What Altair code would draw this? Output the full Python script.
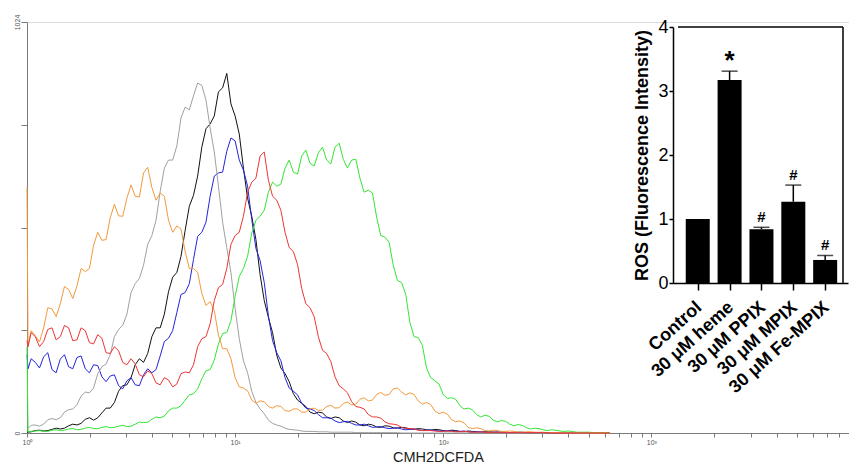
import json
import altair as alt
import pandas as pd

# ---------------- main histogram data (x in decades of fluorescence, y = counts) -------------
DECADES = [0, 0.005, 0.04, 0.08, 0.12, 0.16, 0.20, 0.24, 0.28, 0.32, 0.36, 0.40,
           0.44, 0.48, 0.52, 0.56, 0.60, 0.64, 0.68, 0.72, 0.76, 0.80,
           0.84, 0.88, 0.92, 0.96, 1.00, 1.04, 1.08, 1.12, 1.16, 1.20,
           1.24, 1.28, 1.32, 1.36, 1.40, 1.44, 1.48, 1.52, 1.56, 1.60,
           1.64, 1.68, 1.72, 1.76, 1.80, 1.84, 1.88, 1.92, 1.96, 2.00,
           2.04, 2.08, 2.12, 2.16, 2.20, 2.24, 2.28, 2.32, 2.36, 2.40,
           2.44, 2.48, 2.52, 2.56, 2.60, 2.64, 2.68, 2.72, 2.76, 2.80]
MID_DECADES = [0.02, 0.06, 0.10, 0.14, 0.18, 0.22, 0.26, 0.30, 0.34, 0.38,
               0.42, 0.46, 0.50, 0.54, 0.58, 0.62, 0.66, 0.70, 0.74, 0.78,
               0.82, 0.86, 0.90, 0.94, 0.98, 1.02, 1.06, 1.10, 1.14, 1.18,
               1.22, 1.26, 1.30, 1.34, 1.38, 1.42, 1.46, 1.50, 1.54, 1.58,
               1.62, 1.66, 1.70, 1.74, 1.78, 1.82, 1.86, 1.90, 1.94, 1.98,
               2.02, 2.06, 2.10, 2.14, 2.18, 2.22, 2.26, 2.30, 2.34, 2.38,
               2.42, 2.46, 2.50, 2.54, 2.58, 2.62, 2.66, 2.70, 2.74, 2.78]

GRAY = [12, 12, 20, 22, 36, 38, 58, 70, 102, 112, 165, 195, 258, 296, 372, 418, 492, 602,
        680, 715, 812, 840, 866, 760, 615, 462, 310, 180, 104, 60, 32, 20, 12, 8, 5, 4, 3, 3,
        2, 2, 2, 1, 1, 1, 1, 1, 0, 0, 0, 0, 0, 0, 0, 0, 0, 0, 0, 0, 0, 0, 0, 0, 0, 0, 0, 0, 0,
        0, 0, 0, 0, 0]
GRAY_MID = [19, 17, 33, 33, 52, 60, 92, 100, 148, 172, 240, 268, 350, 385, 470, 530, 660, 680,
            785, 805, 872, 830, 700, 525, 400, 235, 150, 76, 48, 24, 17, 9, 7, 4, 4, 3, 2, 2,
            2, 1, 1, 1, 1, 1, 1, 0, 0, 0, 0, 0, 0, 0, 0, 0, 0, 0, 0, 0, 0, 0, 0, 0, 0, 0, 0,
            0, 0, 0, 0, 0]
ORANGE = [612, 219, 242, 262, 309, 322, 358, 366, 402, 468, 480, 536, 541, 585, 590, 648, 612,
          598, 530, 516, 452, 410, 348, 327, 244, 210, 138, 112, 82, 80, 66, 68, 56, 60, 52, 60,
          56, 66, 62, 74, 70, 84, 80, 96, 94, 110, 102, 100, 80, 76, 55, 52, 33, 30, 14, 13, 6,
          7, 4, 5, 2, 3, 2, 2, 1, 1, 0, 0, 0, 0, 0, 0]
ORANGE_MID = [255, 227, 312, 290, 365, 335, 410, 410, 500, 482, 570, 540, 618, 588, 662, 580,
              590, 500, 508, 410, 400, 318, 305, 210, 185, 115, 105, 74, 78, 62, 66, 54, 60, 52,
              62, 57, 69, 63, 77, 72, 88, 82, 101, 96, 112, 95, 96, 72, 71, 48, 47, 28, 25, 11,
              11, 5, 6, 4, 4, 2, 3, 2, 1, 1, 1, 0, 0, 0, 0, 0]
GREEN = [214, 2, 5, 4, 7, 6, 10, 8, 12, 11, 14, 13, 17, 16, 22, 26, 34, 38, 55, 62, 82, 98,
         135, 158, 222, 250, 340, 410, 498, 540, 600, 615, 660, 650, 690, 672, 698, 680, 712,
         682, 680, 635, 605, 538, 488, 418, 375, 275, 238, 162, 130, 96, 88, 68, 62, 46, 44,
         32, 31, 22, 21, 13, 12, 8, 8, 5, 5, 2, 2, 1, 1, 0]
GREEN_MID = [4, 6, 4, 8, 7, 11, 9, 14, 11, 16, 14, 19, 17, 27, 27, 40, 42, 62, 68, 95,
             110, 155, 182, 248, 280, 390, 440, 530, 555, 625, 620, 680, 645, 705, 665, 712,
             670, 722, 660, 682, 600, 598, 492, 475, 380, 345, 240, 218, 138, 122, 86, 84, 60,
             58, 40, 42, 28, 29, 18, 19, 10, 11, 6, 7, 4, 4, 2, 2, 1, 1]
RED = [230, 215, 240, 228, 262, 240, 262, 232, 255, 222, 236, 198, 205, 170, 172, 140, 148,
       120, 132, 122, 152, 170, 235, 272, 362, 410, 492, 540, 625, 690, 630, 580, 500, 452,
       360, 312, 240, 198, 140, 110, 78, 64, 46, 40, 28, 22, 14, 11, 7, 6, 5, 4, 4, 3, 3, 2,
       2, 2, 1, 1, 1, 1, 1, 1, 0, 0, 0, 0, 0, 0, 0, 0]
RED_MID = [250, 215, 258, 232, 268, 230, 262, 225, 245, 200, 215, 176, 185, 145, 155, 125,
           138, 115, 148, 150, 215, 240, 330, 370, 470, 500, 600, 635, 700, 590, 555, 462, 420,
           322, 290, 206, 178, 118, 100, 66, 60, 40, 37, 23, 20, 11, 10, 6, 6, 4, 5, 3, 4, 2,
           3, 1, 2, 1, 1, 1, 1, 1, 1, 0, 0, 0, 0, 0, 0, 0]
BLACK = [2, 2, 6, 5, 9, 10, 18, 20, 34, 32, 50, 62, 104, 120, 170, 176, 240, 262, 352, 400,
         505, 592, 712, 770, 850, 896, 790, 660, 540, 395, 288, 194, 148, 98, 74, 52, 52, 40,
         40, 30, 30, 20, 22, 15, 18, 13, 14, 10, 11, 8, 9, 6, 7, 4, 5, 3, 3, 2, 2, 1, 2, 1, 1,
         1, 0, 0, 0, 0, 0, 0, 0, 0]
BLACK_MID = [3, 7, 6, 12, 12, 22, 24, 38, 38, 62, 76, 118, 138, 185, 198, 262, 296, 388, 440,
             565, 640, 758, 790, 860, 820, 745, 585, 482, 330, 250, 162, 128, 82, 66, 48, 50,
             36, 38, 26, 27, 18, 20, 14, 17, 12, 13, 9, 10, 7, 8, 5, 6, 3, 4, 2, 3, 1, 2, 1, 2,
             1, 1, 0, 0, 0, 0, 0, 0, 0, 0]
BLUE = [195, 160, 176, 190, 158, 184, 165, 188, 160, 170, 140, 142, 118, 130, 120, 145, 150,
        192, 236, 300, 350, 432, 500, 590, 648, 702, 728, 655, 532, 430, 292, 200, 138, 104,
        74, 60, 46, 38, 30, 28, 24, 20, 18, 15, 13, 12, 10, 9, 8, 7, 6, 5, 5, 4, 3, 3, 2, 2, 2,
        1, 1, 1, 1, 1, 0, 0, 0, 0, 0, 0, 0, 0]
BLUE_MID = [185, 162, 200, 150, 195, 160, 192, 150, 168, 128, 145, 110, 138, 118, 160, 158,
            228, 255, 345, 372, 490, 525, 640, 650, 735, 680, 615, 460, 375, 230, 180, 112, 95,
            62, 56, 38, 37, 26, 29, 20, 22, 14, 16, 11, 13, 8, 10, 6, 8, 5, 6, 4, 5, 2, 3, 1, 3,
            1, 2, 1, 1, 1, 1, 0, 0, 0, 0, 0, 0, 0]

CURVE_NAMES = ["gray", "orange", "green", "red", "black", "blue"]
CURVE_VALUES = [GRAY, ORANGE, GREEN, RED, BLACK, BLUE]
CURVE_MIDS = [GRAY_MID, ORANGE_MID, GREEN_MID, RED_MID, BLACK_MID, BLUE_MID]
CURVE_COLORS = ["#a0a0a0", "#f39a3c", "#33e633", "#ee3535", "#111111", "#2424dd"]

rows = []
for name, vals, mids in zip(CURVE_NAMES, CURVE_VALUES, CURVE_MIDS):
    assert len(vals) == len(DECADES), (name, len(vals))
    assert len(mids) == len(MID_DECADES), (name, len(mids))
    for d, v in list(zip(DECADES, vals)) + list(zip(MID_DECADES, mids)):
        rows.append({"curve": name, "dec": d, "fl": 10 ** d, "count": v})
hist = pd.DataFrame(rows).sort_values(["curve", "dec"]).reset_index(drop=True)

# ---------------- inset bar chart data ----------------
ROS_GROUPS = ["Control", "30 μM heme", "30 μM PPIX", "30 μM MPIX", "30 μM Fe-MPIX"]
ROS_MEAN = [1.0, 3.17, 0.84, 1.27, 0.36]
ROS_ERR = [0.0, 0.14, 0.03, 0.26, 0.07]
ROS_MARK = ["", "*", "#", "#", "#"]

bars = pd.DataFrame({
    "group": ROS_GROUPS,
    "idx": list(range(1, len(ROS_GROUPS) + 1)),
    "ros": ROS_MEAN,
    "err": ROS_ERR,
    "mark": ROS_MARK,
})
bars["hi"] = bars["ros"] + bars["err"]

FONT = "Liberation Sans"
W, H = 822, 411

# ---------------- main chart ----------------
x_ticks = [k * m for m in (1, 10, 100, 1000) for k in range(1, 10) if k * m < 9000]
x_label_expr = ("datum.value == 1 ? '10⁰' : datum.value == 10 ? '10¹' : "
                "datum.value == 100 ? '10²' : datum.value == 1000 ? '10³' : ''")

main = alt.Chart(hist).mark_line(strokeWidth=1).encode(
    x=alt.X("fl:Q",
            scale=alt.Scale(type="log", domain=[1, 10 ** 3.95], nice=False),
            axis=alt.Axis(values=x_ticks, labelExpr=x_label_expr, orient="bottom",
                          domainColor="#7a7a7a", tickColor="#7a7a7a", tickSize=4,
                          labelFontSize=7, labelColor="#555555", labelPadding=1,
                          labelFlush=False, labelOverlap=False, grid=False,
                          title="CMH2DCFDA", titleFontSize=14.5, titleFontWeight="normal",
                          titleColor="#222222", titlePadding=5)),
    y=alt.Y("count:Q",
            scale=alt.Scale(domain=[0, 1024], nice=False),
            axis=alt.Axis(values=[0, 256, 512, 768, 1024], format="d",
                          labelExpr="datum.value == 0 || datum.value == 1024 ? datum.label : ''",
                          labelAngle=270, labelAlign="center", labelBaseline="bottom",
                          domainColor="#7a7a7a", tickColor="#7a7a7a", tickSize=6,
                          labelFontSize=7, labelColor="#555555", labelPadding=1,
                          labelOverlap=False, grid=False, title=None, orient="left")),
    color=alt.Color("curve:N", scale=alt.Scale(domain=CURVE_NAMES, range=CURVE_COLORS),
                    legend=None),
    order=alt.Order("dec:Q"),
)

# ---------------- inset ----------------
X_LO, X_HI = 0.38, 5.56
Y_TOP = 4
IN_X_RANGE = [646, 821]
IN_Y_RANGE = [261, 5]
xs = alt.Scale(domain=[X_LO, X_HI], range=IN_X_RANGE, nice=False, zero=False)
ys = alt.Scale(domain=[0, Y_TOP], range=IN_Y_RANGE, nice=False)

group_expr = json.dumps(ROS_GROUPS, ensure_ascii=False) + "[datum.value - 1]"

IN_X_AXIS = alt.Axis(orient="bottom", offset=-(H - IN_Y_RANGE[0]), values=[1, 2, 3, 4, 5],
                     labelExpr=group_expr, labelAngle=318, labelAlign="right",
                     labelBaseline="top", labelFontSize=18, labelFontWeight="bold",
                     labelColor="black", labelPadding=8, labelOffset=-5, labelFlush=False,
                     labelOverlap=False, labelBound=False,
                     domainColor="black", domainWidth=1.5, tickColor="black",
                     tickWidth=1.5, tickSize=7, grid=False, title=None)
IN_Y_AXIS = alt.Axis(orient="left", offset=-IN_X_RANGE[0], values=[0, 1, 2, 3, 4],
                     format="d", labelFontSize=18, labelColor="black", labelPadding=1,
                     labelFlush=False, domainColor="black", domainWidth=1.5,
                     tickColor="black", tickWidth=1.5, tickSize=4, grid=False,
                     title="ROS (Fluorescence Intensity)", titleFontSize=18,
                     titleFontWeight="bold", titleColor="black", titlePadding=6)

base = alt.Chart(bars)
in_bars = base.mark_bar(size=24, color="black", orient="vertical").encode(
    x=alt.X("idx:Q", scale=xs, axis=IN_X_AXIS),
    y=alt.Y("ros:Q", scale=ys, axis=IN_Y_AXIS),
)
in_err = base.mark_rule(color="black", strokeWidth=1.5).encode(
    x=alt.X("idx:Q", scale=xs, axis=IN_X_AXIS),
    y=alt.Y("ros:Q", scale=ys, axis=IN_Y_AXIS),
    y2="hi:Q",
)
in_cap = base.transform_filter("datum.err > 0").mark_tick(
    color="black", orient="horizontal", size=16, thickness=1.5).encode(
    x=alt.X("idx:Q", scale=xs, axis=IN_X_AXIS),
    y=alt.Y("hi:Q", scale=ys, axis=IN_Y_AXIS),
)
in_star = base.transform_filter("datum.mark == '*'").mark_text(
    fontSize=26, fontWeight="bold", color="black", baseline="alphabetic", dy=-2, font=FONT
).encode(x=alt.X("idx:Q", scale=xs, axis=IN_X_AXIS),
         y=alt.Y("hi:Q", scale=ys, axis=IN_Y_AXIS), text="mark:N")
in_hash = base.transform_filter("datum.mark == '#'").mark_text(
    fontSize=15, fontWeight="bold", color="black", baseline="alphabetic", dy=-5, font=FONT
).encode(x=alt.X("idx:Q", scale=xs, axis=IN_X_AXIS),
         y=alt.Y("hi:Q", scale=ys, axis=IN_Y_AXIS), text="mark:N")

one = alt.Chart(pd.DataFrame({"k": [0]}))
frame_top = one.mark_rule(color="black", strokeWidth=1.5).encode(
    x=alt.XDatum(X_LO, scale=xs, axis=IN_X_AXIS), x2=alt.X2Datum(X_HI),
    y=alt.YDatum(Y_TOP, scale=ys, axis=IN_Y_AXIS))
frame_right = one.mark_rule(color="black", strokeWidth=1.5).encode(
    x=alt.XDatum(X_HI, scale=xs, axis=IN_X_AXIS),
    y=alt.YDatum(0, scale=ys, axis=IN_Y_AXIS), y2=alt.Y2Datum(Y_TOP))

inset = alt.layer(in_bars, in_err, in_cap, in_star, in_hash, frame_top, frame_right)

chart = alt.layer(main, inset).resolve_scale(x="independent", y="independent").properties(
    width=W, height=H,
    autosize=alt.AutoSizeParams(type="none"),
    padding={"left": 19, "top": 14, "right": 0, "bottom": 36},
    background="white",
).configure_view(stroke=None).configure(font=FONT)

chart.save("out.html", embed_options={"renderer": "svg", "actions": False})
